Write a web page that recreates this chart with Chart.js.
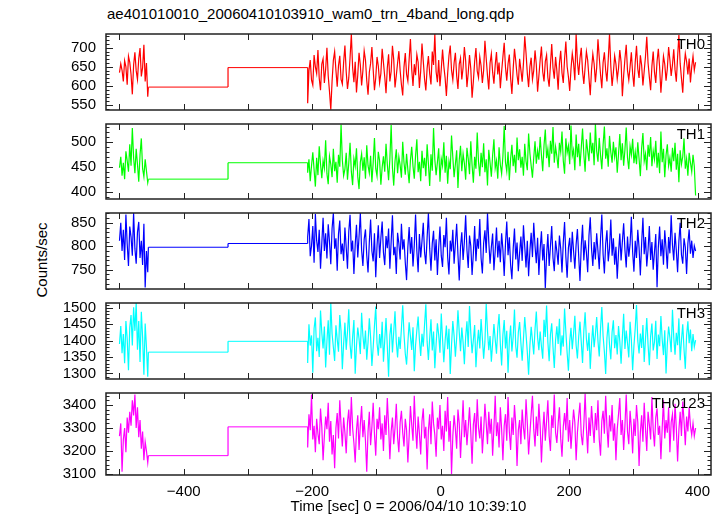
<!DOCTYPE html>
<html>
<head>
<meta charset="utf-8">
<title>WAM light curve</title>
<script src="https://cdn.jsdelivr.net/npm/chart.js"></script>
<style>
    body {
        margin: 0;
        width: 724px;
        height: 516px;
        position: relative;
        overflow: hidden;
        background: #fff;
        font-family: "Liberation Sans", Arial, sans-serif;
        color: #000;
    }
    .panel {
        position: absolute;
        left: 0;
        width: 724px;
    }
    #title {
        position: absolute;
        left: 107px;
        top: 5px;
        font-size: 15px;
        line-height: 18px;
        white-space: nowrap;
    }
    #ylabel {
        position: absolute;
        left: 41px;
        top: 260px;
        font-size: 15px;
        white-space: nowrap;
        transform: translate(-50%, -50%) rotate(-90deg);
    }
</style>
</head>
<body>
<div id="title">ae401010010_20060410103910_wam0_trn_4band_long.qdp</div>
<div id="ylabel">Counts/sec</div>
<script>
    // time grid of the binned light curve (sec)
    const binStep = 2;
    const earlyStart = -500;
    const lateStart = -207;
    const gapEdges = [-455, -331, -207];

    const channels = ['TH0', 'TH1', 'TH2', 'TH3', 'TH0123'];
    // levels drawn across the data gap
    const gapLevelA = [597, 425, 798, 1365, 3180];
    const gapLevelB = [648, 458, 806, 1398, 3305];

    const th0Early = [635, 658, 641, 612, 666, 650, 603, 678, 662, 630, 578, 655, 688, 640, 617, 672, 699, 625, 648, 708, 612, 660, 572];
    const th0Late = [
        555, 640, 668, 615, 602, 681, 650, 633, 694, 620, 589, 657, 671, 608, 644,
        700, 626, 585, 538, 612, 667, 690, 641, 598, 653, 679, 617, 605, 662, 706,
        637, 592, 621, 674, 736, 648, 610, 663, 583, 629, 687, 655, 601, 640, 692,
        668, 614, 577, 636, 659, 702, 643, 589, 621, 676, 652, 608, 633, 697, 661,
        624, 581, 647, 683, 612, 638, 705, 669, 596, 627, 660, 691, 640, 603, 575,
        650, 686, 631, 613, 670, 723, 644, 600, 657, 628, 682, 662, 595, 639, 711,
        665, 618, 588, 646, 678, 632, 604, 690, 655, 736, 637, 610, 668, 599, 643,
        695, 652, 621, 574, 633, 679, 706, 641, 616, 660, 687, 626, 592, 657, 673,
        617, 648, 702, 666, 597, 634, 681, 645, 569, 612, 664, 699, 639, 622, 676,
        653, 608, 641, 718, 672, 627, 591, 660, 684, 636, 606, 654, 689, 630, 661,
        594, 638, 676, 713, 649, 614, 658, 682, 620, 579, 645, 697, 665, 628, 603,
        671, 642, 611, 659, 730, 686, 633, 597, 650, 674, 617, 640, 693, 656, 585,
        626, 668, 703, 637, 612, 664, 681, 622, 598, 655, 710, 647, 619, 676, 640,
        590, 659, 692, 634, 608, 670, 716, 651, 624, 587, 644, 685, 660, 615, 736,
        663, 629, 672, 700, 638, 605, 649, 690, 667, 621, 576, 643, 684, 658, 610,
        648, 722, 675, 630, 594, 661, 688, 641, 612, 669, 736, 652, 600, 635, 679,
        657, 618, 646, 694, 663, 573, 627, 671, 708, 640, 616, 650, 688, 632, 598,
        662, 705, 645, 621, 680, 654, 601, 639, 677, 729, 660, 623, 589, 652, 690,
        636, 608, 664, 697, 649, 582, 631, 678, 657, 614, 645, 702, 668, 626, 655,
        696, 642, 611, 676, 733, 659, 620, 582, 648, 685, 664, 630, 672, 609, 650,
        678, 641, 662
    ];

    const th1Early = [448, 470, 432, 458, 425, 481, 462, 440, 495, 452, 528, 468, 437, 486, 455, 420, 474, 507, 446, 430, 465, 441, 418];
    const th1Late = [
        438, 465, 421, 452, 479, 444, 410, 468, 433, 491, 456, 427, 462, 447, 503,
        436, 415, 471, 455, 429, 486, 441, 460, 418, 474, 450, 535, 463, 432, 445,
        478, 424, 457, 498, 440, 413, 466, 451, 487, 430, 405, 459, 476, 442, 469,
        426, 493, 452, 437, 472, 419, 458, 508, 446, 431, 480, 462, 414, 449, 471,
        440, 496, 455, 423, 466, 534, 448, 412, 461, 485, 437, 470, 453, 428, 500,
        458, 434, 476, 444, 417, 463, 490, 451, 426, 472, 505, 439, 460, 421, 482,
        447, 468, 431, 495, 456, 411, 475, 442, 528, 464, 433, 459, 487, 420, 466,
        452, 499, 438, 472, 416, 461, 445, 513, 469, 429, 455, 483, 407, 463, 492,
        441, 476, 457, 424, 488, 466, 435, 501, 453, 418, 470, 446, 519, 460, 431,
        478, 449, 497, 439, 465, 412, 484, 458, 430, 473, 505, 447, 462, 426, 489,
        454, 436, 471, 532, 459, 441, 480, 423, 466, 494, 451, 474, 438, 509, 463,
        485, 448, 470, 432, 496, 461, 443, 517, 477, 452, 428, 468, 501, 456, 482,
        464, 510, 473, 441, 493, 525, 467, 486, 449, 502, 476, 530, 458, 490, 471,
        447, 498, 480, 521, 462, 436, 507, 478, 492, 455, 533, 472, 484, 443, 515,
        469, 496, 451, 488, 527, 474, 440, 505, 482, 461, 519, 477, 498, 453, 536,
        481, 460, 508, 473, 445, 494, 531, 466, 487, 450, 512, 479, 458, 500, 470,
        489, 438, 475, 516, 463, 497, 452, 484, 529, 468, 445, 491, 474, 506, 457,
        480, 455, 499, 466, 431, 487, 518, 461, 476, 443, 494, 470, 510, 451, 482,
        465, 502, 448, 478, 437, 521, 459, 486, 429, 473, 495, 452, 468, 440, 488,
        461, 498, 444, 476, 419, 483, 455, 470, 507, 446, 466, 432, 478, 458, 440,
        474, 451, 392
    ];

    const th2Early = [812, 850, 790, 835, 771, 868, 805, 758, 842, 820, 780, 871, 795, 763, 830, 852, 775, 812, 760, 848, 712, 790, 745];
    const th2Late = [
        820, 858, 779, 801, 843, 765, 869, 812, 788, 835, 752, 806, 861, 790, 828,
        774, 847, 809, 762, 838, 871, 795, 817, 748, 826, 855, 783, 806, 769, 840,
        798, 752, 831, 867, 789, 812, 741, 803, 846, 776, 821, 871, 792, 758, 815,
        836, 781, 744, 809, 857, 790, 768, 828, 734, 801, 845, 775, 818, 853, 787,
        760, 822, 796, 838, 752, 810, 866, 781, 799, 741, 829, 806, 772, 848, 793,
        815, 765, 728, 798, 841, 784, 820, 757, 802, 868, 790, 745, 826, 776, 811,
        850, 787, 762, 819, 871, 795, 748, 806, 833, 770, 815, 739, 797, 842, 780,
        756, 824, 798, 861, 777, 740, 812, 789, 835, 763, 806, 848, 782, 727, 799,
        830, 771, 810, 866, 792, 754, 823, 801, 739, 785, 843, 768, 816, 795, 858,
        775, 742, 807, 834, 786, 871, 810, 763, 798, 827, 749, 790, 840, 776, 812,
        766, 828, 793, 737, 805, 853, 781, 819, 760, 730, 795, 838, 772, 808, 747,
        786, 821, 769, 845, 799, 755, 812, 736, 790, 829, 777, 850, 801, 764, 818,
        739, 794, 832, 770, 805, 711, 781, 826, 758, 800, 843, 775, 747, 812, 789,
        761, 823, 795, 744, 808, 852, 778, 733, 797, 818, 766, 831, 790, 752, 804,
        837, 779, 726, 801, 846, 770, 813, 787, 745, 823, 862, 795, 758, 809, 772,
        828, 790, 751, 816, 868, 783, 742, 805, 834, 768, 796, 857, 780, 817, 761,
        799, 731, 786, 827, 770, 810, 849, 792, 755, 821, 778, 804, 863, 788, 746,
        812, 775, 835, 797, 738, 806, 861, 783, 820, 757, 792, 843, 771, 809, 750,
        788, 826, 713, 798, 842, 779, 815, 761, 834, 796, 752, 820, 785, 866, 803,
        770, 829, 791, 745, 811, 850, 782, 763, 817, 798, 741, 806, 836, 784, 812,
        775, 801, 790
    ];

    const th3Early = [1390, 1445, 1362, 1420, 1331, 1460, 1405, 1310, 1440, 1478, 1385, 1502, 1430, 1515, 1372, 1460, 1335, 1488, 1410, 1296, 1452, 1380, 1290];
    const th3Late = [
        1332, 1450, 1385, 1416, 1302, 1437, 1471, 1368, 1409, 1350, 1492, 1424, 1376, 1443, 1318,
        1398, 1462, 1357, 1515, 1421, 1380, 1338, 1447, 1404, 1366, 1478, 1429, 1313, 1391, 1455,
        1372, 1426, 1496, 1388, 1345, 1412, 1463, 1299, 1384, 1440, 1406, 1359, 1485, 1415, 1374,
        1431, 1342, 1395, 1468, 1410, 1323, 1379, 1445, 1504, 1392, 1354, 1420, 1377, 1458, 1336,
        1401, 1469, 1383, 1290, 1417, 1452, 1364, 1427, 1490, 1396, 1349, 1412, 1375, 1438, 1508,
        1419, 1360, 1327, 1393, 1456, 1413, 1372, 1441, 1307, 1386, 1432, 1474, 1403, 1353, 1421,
        1382, 1449, 1511, 1397, 1341, 1408, 1465, 1370, 1428, 1316, 1390, 1453, 1418, 1363, 1483,
        1405, 1334, 1399, 1446, 1374, 1436, 1298, 1387, 1460, 1415, 1351, 1409, 1493, 1426, 1368,
        1440, 1395, 1328, 1411, 1459, 1381, 1506, 1423, 1362, 1402, 1448, 1319, 1389, 1433, 1376,
        1466, 1408, 1345, 1397, 1512, 1429, 1371, 1414, 1336, 1392, 1451, 1404, 1360, 1437, 1481,
        1389, 1324, 1418, 1463, 1376, 1430, 1302, 1399, 1446, 1367, 1412, 1495, 1383, 1348, 1425,
        1457, 1393, 1339, 1406, 1472, 1420, 1365, 1296, 1385, 1442, 1401, 1358, 1435, 1489, 1410,
        1371, 1428, 1382, 1345, 1464, 1411, 1507, 1396, 1337, 1419, 1453, 1379, 1317, 1402, 1444,
        1390, 1467, 1355, 1416, 1382, 1498, 1427, 1363, 1308, 1397, 1439, 1374, 1421, 1476, 1386,
        1346, 1412, 1458, 1395, 1332, 1430, 1487, 1405, 1369, 1424, 1314, 1391, 1447, 1380, 1418,
        1472, 1399, 1352, 1436, 1503, 1414, 1366, 1298, 1408, 1455, 1387, 1343, 1426, 1462, 1377,
        1417, 1358, 1445, 1398, 1330, 1410, 1482, 1375, 1431, 1392, 1349, 1458, 1403, 1310, 1384,
        1437, 1509, 1400, 1361, 1422, 1378, 1448, 1335, 1406, 1469, 1388, 1325, 1413, 1452, 1370,
        1396, 1461, 1344, 1419, 1383, 1475, 1404, 1356, 1432, 1300, 1390, 1443, 1409, 1365, 1494,
        1411, 1357, 1424, 1386, 1468, 1340, 1401, 1450, 1373, 1314, 1416, 1459, 1392, 1434, 1368,
        1420, 1381, 1402
    ];

    const th0123Early = [3265, 3320, 3110, 3250, 3300, 3195, 3345, 3280, 3370, 3310, 3420, 3355, 3445, 3300, 3390, 3260, 3335, 3210, 3285, 3160, 3240, 3200, 3150];
    const th0123Late = [
        3215, 3360, 3290, 3445, 3250, 3310, 3195, 3340, 3275, 3230, 3385, 3305, 3160, 3265, 3350,
        3295, 3410, 3240, 3330, 3185, 3270, 3125, 3300, 3365, 3255, 3420, 3310, 3220, 3345, 3280,
        3190, 3325, 3380, 3265, 3435, 3300, 3235, 3150, 3290, 3355, 3205, 3315, 3395, 3260, 3335,
        3245, 3110, 3285, 3370, 3225, 3305, 3410, 3275, 3180, 3340, 3295, 3390, 3250, 3320, 3200,
        3355, 3270, 3430, 3310, 3165, 3285, 3345, 3230, 3300, 3405, 3260, 3195, 3325, 3375, 3280,
        3220, 3340, 3290, 3150, 3265, 3395, 3315, 3245, 3440, 3300, 3210, 3350, 3275, 3185, 3330,
        3385, 3255, 3305, 3120, 3290, 3360, 3230, 3415, 3320, 3270, 3175, 3345, 3295, 3400, 3250,
        3310, 3200, 3375, 3285, 3435, 3240, 3330, 3100, 3265, 3355, 3295, 3210, 3380, 3320, 3170,
        3295, 3420, 3260, 3335, 3225, 3305, 3390, 3280, 3145, 3315, 3365, 3240, 3425, 3300, 3255,
        3350, 3190, 3285, 3405, 3320, 3230, 3370, 3275, 3340, 3180, 3300, 3440, 3265, 3325, 3215,
        3390, 3295, 3160, 3310, 3360, 3245, 3435, 3285, 3205, 3345, 3270, 3400, 3315, 3135, 3290,
        3335, 3230, 3380, 3300, 3250, 3425, 3320, 3185, 3275, 3360, 3440, 3295, 3220, 3350, 3265,
        3405, 3310, 3150, 3285, 3370, 3245, 3330, 3420, 3265, 3200, 3355, 3300, 3445, 3280, 3235,
        3320, 3390, 3255, 3175, 3305, 3365, 3290, 3430, 3240, 3335, 3210, 3295, 3380, 3325, 3160,
        3280, 3350, 3410, 3270, 3225, 3315, 3450, 3300, 3190, 3345, 3265, 3395, 3310, 3235, 3365,
        3290, 3420, 3250, 3180, 3330, 3375, 3275, 3440, 3305, 3215, 3355, 3285, 3400, 3245, 3320,
        3160, 3295, 3360, 3430, 3270, 3335, 3205, 3310, 3445, 3285, 3230, 3375, 3300, 3190, 3340,
        3265, 3400, 3325, 3135, 3280, 3355, 3240, 3410, 3295, 3200, 3370, 3315, 3250, 3435, 3290,
        3220, 3345, 3385, 3270, 3310, 3165, 3300, 3420, 3255, 3335, 3280, 3390, 3195, 3325, 3360,
        3245, 3405, 3300, 3155, 3290, 3370, 3265, 3415, 3330, 3225, 3350, 3285, 3390, 3310, 3270,
        3320, 3265, 3300
    ];

    const earlyData = [th0Early, th1Early, th2Early, th3Early, th0123Early];
    const lateData = [th0Late, th1Late, th2Late, th3Late, th0123Late];

    // axis ranges and tick labels per panel
    const xMin = -521, xMax = 421;
    const xTickLabels = [-400, -200, 0, 200, 400];
    const xTickMarks = [-500, -400, -300, -200, -100, 0, 100, 200, 300, 400];
    const yMins = [537, 385, 709, 1283, 3096];
    const yMaxs = [736, 536, 871, 1515, 3452];
    const yTickLabels = [
        [550, 600, 650, 700],
        [400, 450, 500],
        [750, 800, 850],
        [1300, 1350, 1400, 1450, 1500],
        [3100, 3200, 3300, 3400]
    ];
    const yMajor = [50, 50, 50, 50, 100];
    const yMinor = [10, 10, 10, 10, 20];

    const colors = ['#ff0000', '#00ff00', '#0000ff', '#00ffff', '#ff00ff'];
    const panelTops = [27, 117, 206, 296, 386];
    const panelBottoms = [117, 206, 296, 386, 475];
    const font = {family: '"Liberation Sans", Arial, sans-serif', size: 15};

    function buildSeries(early, late, lvA, lvB) {
        const pts = early.map((v, i) => ({x: earlyStart + i * binStep, y: v}));
        pts.push({x: gapEdges[0], y: lvA}, {x: gapEdges[1], y: lvA},
                 {x: gapEdges[1], y: lvB}, {x: gapEdges[2], y: lvB});
        late.forEach((v, i) => pts.push({x: lateStart + i * binStep, y: v}));
        return pts;
    }

    // frame, inward ticks and channel name
    const framePlugin = {
        id: 'frame',
        afterDatasetsDraw(chart, args, opts) {
            const {ctx, chartArea: a, scales: {x, y}} = chart;
            ctx.save();
            ctx.strokeStyle = '#222';
            ctx.lineWidth = 1;
            ctx.beginPath();
            const first = Math.ceil(y.min / opts.minor) * opts.minor;
            for (let v = first; v <= y.max; v += opts.minor) {
                const py = Math.round(y.getPixelForValue(v)) + 0.5;
                const len = (v % opts.major === 0) ? 7 : 3.5;
                ctx.moveTo(a.left, py);
                ctx.lineTo(a.left + len, py);
                ctx.moveTo(a.right, py);
                ctx.lineTo(a.right - len, py);
            }
            xTickMarks.forEach(v => {
                const px = Math.round(x.getPixelForValue(v)) + 0.5;
                ctx.moveTo(px, a.top);
                ctx.lineTo(px, a.top + 6);
                ctx.moveTo(px, a.bottom);
                ctx.lineTo(px, a.bottom - 6);
            });
            ctx.stroke();
            ctx.lineWidth = 1.5;
            ctx.strokeRect(a.left, a.top, a.right - a.left, a.bottom - a.top);
            ctx.fillStyle = '#000';
            ctx.font = '15px "Liberation Sans", Arial, sans-serif';
            ctx.textAlign = 'right';
            ctx.textBaseline = 'middle';
            ctx.fillText(opts.label, a.right - 6, a.top + 11);
            ctx.restore();
        }
    };

    channels.forEach((name, i) => {
        const isLast = i === channels.length - 1;
        const top = panelTops[i] - 12;
        const height = isLast ? 516 - top : panelBottoms[i] - panelTops[i] + 24;
        const box = document.createElement('div');
        box.className = 'panel';
        box.style.top = top + 'px';
        box.style.height = height + 'px';
        const canvas = document.createElement('canvas');
        box.appendChild(canvas);
        document.body.appendChild(box);

        const xScale = {
            type: 'linear',
            min: xMin,
            max: xMax,
            display: isLast,
            grid: {display: false, drawTicks: false},
            border: {display: false},
            afterBuildTicks: s => { s.ticks = xTickLabels.map(v => ({value: v})); },
            ticks: {
                maxRotation: 0,
                autoSkip: false,
                padding: 8,
                color: '#000',
                font: font,
                callback: v => String(v).replace('-', '\u2212')
            },
            title: {
                display: true,
                text: 'Time [sec] 0 = 2006/04/10 10:39:10',
                color: '#000',
                font: font,
                padding: 0
            }
        };
        if (isLast) {
            xScale.afterFit = s => { s.height = 41; };
        }

        new Chart(canvas, {
            type: 'line',
            data: {
                datasets: [{
                    data: buildSeries(earlyData[i], lateData[i], gapLevelA[i], gapLevelB[i]),
                    borderColor: colors[i],
                    borderWidth: 1.2,
                    pointRadius: 0,
                    tension: 0,
                    // thin line across the flat gap levels
                    segment: {
                        borderWidth: c => c.p0.parsed.y === c.p1.parsed.y ? 1 : 1.2
                    }
                }]
            },
            options: {
                responsive: true,
                maintainAspectRatio: false,
                animation: false,
                events: [],
                layout: {padding: {top: 12, bottom: isLast ? 0 : 12, left: 0, right: 13}},
                plugins: {
                    legend: {display: false},
                    tooltip: {enabled: false},
                    frame: {label: name, major: yMajor[i], minor: yMinor[i]}
                },
                scales: {
                    x: xScale,
                    y: {
                        min: yMins[i],
                        max: yMaxs[i],
                        grid: {display: false, drawTicks: false},
                        border: {display: false},
                        afterBuildTicks: s => { s.ticks = yTickLabels[i].map(v => ({value: v})); },
                        ticks: {
                            autoSkip: false,
                            padding: 10,
                            color: '#000',
                            font: font,
                            callback: v => String(v)
                        },
                        afterFit: s => { s.width = 106; }
                    }
                }
            },
            plugins: [framePlugin]
        });
    });
</script>
</body>
</html>
